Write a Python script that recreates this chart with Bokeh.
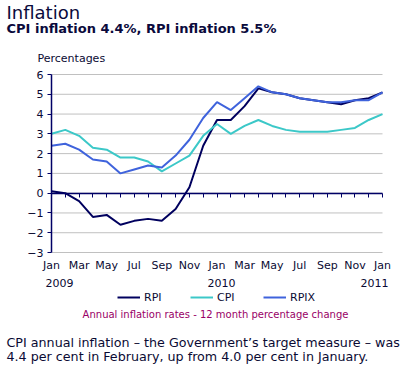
from bokeh.plotting import figure
from bokeh.models import Range1d, FixedTicker, LinearAxis, Label, Legend, LegendItem
from bokeh.embed import file_html
from bokeh.resources import INLINE

# Months since Jan 2009 (0 = Jan 2009 ... 24 = Jan 2011)
months = list(range(25))
tick_positions = list(range(0, 25, 2))
month_labels = ["Jan", "Mar", "May", "Jul", "Sep", "Nov",
                "Jan", "Mar", "May", "Jul", "Sep", "Nov", "Jan"]
year_labels = ["2009", "2010", "2011"]
y_ticks = list(range(-3, 7))

rpi = [0.1, 0.0, -0.4, -1.2, -1.1, -1.6, -1.4, -1.3, -1.4, -0.8, 0.3, 2.4,
       3.7, 3.7, 4.4, 5.3, 5.1, 5.0, 4.8, 4.7, 4.6, 4.5, 4.7, 4.8, 5.1]
cpi = [3.0, 3.2, 2.9, 2.3, 2.2, 1.8, 1.8, 1.6, 1.1, 1.5, 1.9, 2.9,
       3.5, 3.0, 3.4, 3.7, 3.4, 3.2, 3.1, 3.1, 3.1, 3.2, 3.3, 3.7, 4.0]
rpix = [2.4, 2.5, 2.2, 1.7, 1.6, 1.0, 1.2, 1.4, 1.3, 1.9, 2.7, 3.8,
        4.6, 4.2, 4.8, 5.4, 5.1, 5.0, 4.8, 4.7, 4.6, 4.6, 4.7, 4.7, 5.1]

FONT = "DejaVu Sans"
NAVY = "#000066"
TEXT = "#0a0a33"
C_RPI = "#00005e"
C_CPI = "#3cc8c8"
C_RPIX = "#3f63dc"

W, H = 414, 377
# plot area in page pixels
PL, PR, PT, PB = 51, 382, 74, 252
x0, x1 = months[0], months[-1]
y0, y1 = y_ticks[0], y_ticks[-1]
sx = (PR - PL) / (x1 - x0)
sy = (PB - PT) / (y1 - y0)

p = figure(width=W, height=H, output_backend="svg", toolbar_location=None,
           x_range=Range1d(x0 - PL / sx, x1 + (W - PR) / sx),
           y_range=Range1d(y0 - (H - PB) / sy, y1 + PT / sy),
           min_border=0, x_axis_location=None, y_axis_location=None)
p.outline_line_color = None
p.background_fill_color = "white"
p.border_fill_color = "white"
p.xgrid.visible = False
p.ygrid.visible = False

# horizontal grid lines
p.segment(x0=[x0] * len(y_ticks), x1=[x1] * len(y_ticks), y0=y_ticks, y1=y_ticks,
          line_color="#c0c0c0", line_width=1)

# Y axis
yax = LinearAxis(ticker=FixedTicker(ticks=y_ticks), fixed_location=x0, bounds=(y0, y1))
yax.axis_line_color = NAVY
yax.axis_line_width = 1.5
yax.major_tick_line_color = NAVY
yax.major_tick_out = 4
yax.major_tick_in = 0
yax.minor_tick_line_color = None
yax.major_label_text_font = FONT
yax.major_label_text_font_size = "11px"
yax.major_label_text_color = TEXT
yax.major_label_standoff = 4
p.add_layout(yax, "left")

# Month labels along bottom
xlab = LinearAxis(ticker=FixedTicker(ticks=tick_positions), fixed_location=y0)
xlab.major_label_overrides = {t: l for t, l in zip(tick_positions, month_labels)}
xlab.axis_line_color = None
xlab.major_tick_line_color = None
xlab.major_tick_out = 0
xlab.major_tick_in = 0
xlab.minor_tick_line_color = None
xlab.minor_tick_out = 0
xlab.major_label_text_font = FONT
xlab.major_label_text_font_size = "11px"
xlab.major_label_text_color = TEXT
xlab.major_label_standoff = 6
p.add_layout(xlab, "below")

# Zero axis with monthly ticks
zax = LinearAxis(ticker=FixedTicker(ticks=months), fixed_location=0, bounds=(x0, x1))
zax.axis_line_color = NAVY
zax.axis_line_width = 1.5
zax.major_tick_line_color = NAVY
zax.major_tick_out = 4
zax.major_tick_in = 0
zax.minor_tick_line_color = None
zax.major_label_text_color = None
zax.major_label_text_font_size = "1px"
p.add_layout(zax, "below")

r1 = p.line(months, rpi, line_color=C_RPI, line_width=2)
r2 = p.line(months, cpi, line_color=C_CPI, line_width=2)
r3 = p.line(months, rpix, line_color=C_RPIX, line_width=2)

legend = Legend(items=[LegendItem(label="RPI", renderers=[r1]),
                       LegendItem(label="CPI", renderers=[r2]),
                       LegendItem(label="RPIX", renderers=[r3])],
                orientation="horizontal", location=(117, H - 307))
legend.padding = 0
legend.margin = 0
legend.glyph_width = 23
legend.glyph_height = 20
legend.label_standoff = 4
legend.spacing = 26
legend.border_line_color = None
legend.background_fill_alpha = 0
legend.label_text_font = FONT
legend.label_text_font_size = "11px"
legend.label_text_color = TEXT
p.add_layout(legend)


def lab(text, px, py, size, color=TEXT, bold=False, align="left"):
    # px, py: page pixel position of the text baseline
    p.add_layout(Label(x=px, y=H - py, x_units="screen", y_units="screen", text=text,
                       text_font=FONT, text_font_size=size, text_color=color,
                       text_font_style="bold" if bold else "normal",
                       text_align=align, text_baseline="alphabetic"))


for yl, xs in zip(year_labels, [45, 207, 360]):
    lab(yl, xs, 282, "11px")

lab("Inflation", 6, 12, "18px", color="#0a0a3c")
lab("CPI inflation 4.4%, RPI inflation 5.5%", 6, 28, "13px", color="#0a0a3c", bold=True)
lab("Percentages", 37, 58, "11px")
lab("Annual inflation rates - 12 month percentage change", 215, 314, "10px", color="#990066", align="center")
lab("CPI annual inflation \u2013 the Government\u2019s target measure \u2013 was", 6, 342, "12.7px")
lab("4.4 per cent in February, up from 4.0 per cent in January.", 6, 356, "12.7px")

open("out.html", "w").write(file_html(p, INLINE))
